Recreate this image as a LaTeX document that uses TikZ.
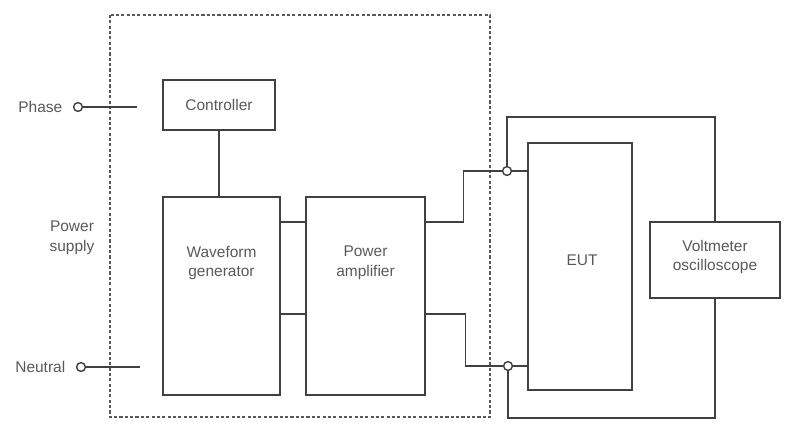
\documentclass[tikz,border=0pt]{standalone}
\usepackage{fontspec}
\setmainfont{Liberation Sans}
\usetikzlibrary{positioning, calc}

\begin{document}
\begin{tikzpicture}[
    x=0.025cm, y=-0.025cm,
    block/.style={rectangle, draw=black!75, line width=1.1pt, inner sep=0pt, align=center, font=\fontsize{11}{14}\selectfont, text=black!65},
    lbl/.style={inner sep=0pt, align=center, font=\fontsize{11}{14}\selectfont, text=black!65},
    term/.style={circle, draw=black!75, line width=1pt, fill=white, minimum size=2.2mm, inner sep=0pt},
    wire/.style={draw=black!75, line width=1pt},
    frame/.style={draw=black!65, line width=0.9pt, dash pattern=on 2.2pt off 1.6pt},
]
\useasboundingbox (0,0) rectangle (796,442);

% Generator frame
\draw[frame] (110,15) rectangle (490,417);

% Blocks
\node[block, minimum width=2.8cm, minimum height=1.25cm] (ctrl) at (219,105) {Controller};
\node[block, minimum width=2.925cm, minimum height=4.95cm] (wave) at (221.5,296) {};
\node[block, minimum width=2.975cm, minimum height=4.95cm] (amp) at (365.5,296) {};
\node[block, minimum width=2.6cm, minimum height=6.175cm] (eut) at (580,266.5) {};
\node[block, minimum width=3.25cm, minimum height=1.9cm] (vm) at (715,260) {};

% Block texts (set above centre as printed)
\node[lbl] (wavetxt) at ($(wave.center)+(0,-33)$) {Waveform\\generator};
\node[lbl] (amptxt) at ($(amp.center)+(0,-33)$) {Power\\amplifier};
\node[lbl] (euttxt) at ($(eut.center)+(2,-6)$) {EUT};
\node[lbl] (vmtxt) at ($(vm.center)+(0,-3)$) {Voltmeter\\oscilloscope};

% Supply terminals
\node[term] (phase) at (78,107) {};
\node[term] (neutral) at (81,367) {};
\node[lbl, left=2.6mm of phase] (phaselbl) {Phase};
\node[lbl, left=2.6mm of neutral] (neutrallbl) {Neutral};
\node[lbl] (supply) at (72,238) {Power\\supply};
\coordinate (phaseEnd) at (137,107);
\coordinate (neutralEnd) at (140,367);
\draw[wire] (phase) -- (phaseEnd);
\draw[wire] (neutral) -- (neutralEnd);

% EUT terminals
\node[term] (ptop) at (507,171) {};
\node[term] (pbot) at (508,366) {};

% Internal links
\draw[wire] (ctrl.south) -- (ctrl.south |- wave.north);
\draw[wire] ($(wave.north east)!0.13!(wave.south east)$) -- ($(amp.north west)!0.13!(amp.south west)$);
\draw[wire] ($(wave.north east)!0.59!(wave.south east)$) -- ($(amp.north west)!0.59!(amp.south west)$);

% Amplifier output to EUT
\draw[wire] ($(amp.north east)!0.13!(amp.south east)$) -- ++(38,0) |- (ptop);
\draw[wire] ($(amp.north east)!0.59!(amp.south east)$) -- ++(40,0) |- (pbot);
\draw[wire] (ptop) -- (ptop -| eut.west);
\draw[wire] (pbot) -- (pbot -| eut.west);

% Measurement leads
\draw[wire] (ptop.north) -- ++(0,-49) -| (vm.north);
\draw[wire] (pbot.south) -- ++(0,47) -| (vm.south);
\end{tikzpicture}
\end{document}
